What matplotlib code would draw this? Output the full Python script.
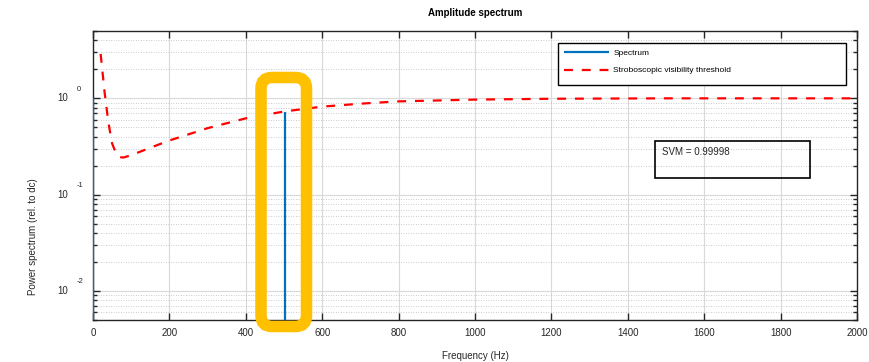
import matplotlib
matplotlib.use("Agg")
import matplotlib.pyplot as plt
from matplotlib.patches import FancyBboxPatch, Rectangle
from matplotlib.ticker import LogLocator, FixedLocator, NullFormatter
from matplotlib.transforms import blended_transform_factory, IdentityTransform

plt.rcParams['font.family'] = ['Liberation Sans', 'DejaVu Sans']

# Data
spec_freq = [0, 502]
spec_power = [1.0, 0.73]

thr_freq = [20, 30, 40, 50, 60, 70, 80, 100, 150, 200, 300, 400, 500, 600,
            700, 800, 1000, 1200, 1500, 2000]
thr_power = [2.89, 1.19, 0.57, 0.34, 0.27, 0.245, 0.243, 0.257, 0.307, 0.365,
             0.49, 0.62, 0.73, 0.82, 0.88, 0.93, 0.97, 0.99, 1.0, 1.0]

x_ticks = [0, 200, 400, 600, 800, 1000, 1200, 1400, 1600, 1800, 2000]
y_ticks = [0.01, 0.1, 1]
y_exps = ['-2', '-1', '0']
svm_text = "SVM = 0.99998"

W, H = 869, 362
fig = plt.figure(figsize=(W / 100, H / 100), dpi=100)
AX_L, AX_R, AX_T, AX_B = 93, 857, 31, 320
ax = fig.add_axes([AX_L / W, 1 - AX_B / H, (AX_R - AX_L) / W, (AX_B - AX_T) / H])

dark = '#262626'
ax.vlines(spec_freq, 1e-6, spec_power, color='#0072BD', linewidth=1.6,
          label='Spectrum', zorder=3)
ax.plot(thr_freq, thr_power, color='red', linestyle=(0, (4, 4)), linewidth=1.6,
        label='Stroboscopic visibility threshold', zorder=4)

ax.set_yscale('log')
ax.set_xlim(0, 2000)
ax.set_ylim(0.005, 5)
ax.set_xticks(x_ticks)
ax.set_xticklabels([str(t) for t in x_ticks])
ax.yaxis.set_major_locator(FixedLocator(y_ticks))
ax.yaxis.set_major_formatter(NullFormatter())
ax.yaxis.set_minor_locator(LogLocator(base=10, subs=range(2, 10), numticks=20))
ax.yaxis.set_minor_formatter(NullFormatter())

# MATLAB-style y tick labels: "10" with a detached exponent
tr = blended_transform_factory(ax.transAxes, ax.transData)
for v, e in zip(y_ticks, y_exps):
    ax.text((68 - AX_L) / (AX_R - AX_L), v, '10', transform=tr, ha='right', va='center',
            fontsize=7, color=dark, clip_on=False)
    ax.text((77 - AX_L) / (AX_R - AX_L), v * 10 ** (9 / 96), e, transform=tr, ha='left',
            va='center', fontsize=5.5, color=dark, clip_on=False)

ax.tick_params(which='both', direction='in', top=True, right=True,
               colors=dark, labelsize=7, labelcolor=dark)
ax.tick_params(which='major', length=5, width=1)
ax.tick_params(which='minor', length=3, width=1)
ax.tick_params(axis='x', pad=6)

ax.grid(which='major', axis='both', color='#d9d9d9', linewidth=0.8, linestyle='-')
ax.grid(which='minor', axis='y', color='#b8b8b8', linewidth=0.6, linestyle=(0, (1, 2)))
ax.set_axisbelow(True)

for s in ax.spines.values():
    s.set_color(dark)
    s.set_linewidth(1.0)

ax.set_title('Amplitude spectrum', fontsize=7, fontweight='bold', color='black', pad=11)
ax.set_xlabel('Frequency (Hz)', fontsize=7, color=dark, labelpad=9)
ax.text((33 - AX_L) / (AX_R - AX_L), (AX_B - 237) / (AX_B - AX_T),
        'Power spectrum (rel. to dc)', transform=ax.transAxes,
        rotation=90, ha='center', va='center', fontsize=7, color=dark)

# Legend with a manually drawn frame
lx0, lx1, ly0, ly1 = 558, 846, 43, 85
ax.add_patch(Rectangle((lx0, H - ly1), lx1 - lx0, ly1 - ly0,
                       transform=IdentityTransform(), facecolor='white',
                       edgecolor='black', linewidth=1.0, zorder=5, clip_on=False))
leg = ax.legend(loc='upper left',
                bbox_to_anchor=((lx0 - AX_L) / (AX_R - AX_L), (AX_B - ly1) / (AX_B - AX_T),
                                (lx1 - lx0) / (AX_R - AX_L), (ly1 - ly0) / (AX_B - AX_T)),
                mode='expand', fontsize=6, frameon=False, borderaxespad=0,
                handlelength=5.4, handletextpad=0.5, labelspacing=1.15,
                borderpad=0.75)
leg.set_zorder(6)

# SVM text box
fig.patches.append(Rectangle((655 / W, 1 - 178 / H), (810 - 655) / W, (178 - 141) / H,
                             transform=fig.transFigure, fill=False,
                             edgecolor='black', linewidth=1.2))
fig.text(662 / W, 1 - 152 / H, svm_text, fontsize=7, color=dark, va='center', ha='left')

# Highlight box (pixel coordinates, origin bottom-left)
bx0, bx1, by0, by1 = 261, 306.5, 77.5, 326.5
fig.patches.append(FancyBboxPatch((bx0, H - by1), bx1 - bx0, by1 - by0,
                                  boxstyle='round,pad=0,rounding_size=11',
                                  transform=IdentityTransform(), fill=False,
                                  edgecolor='#FFC000', linewidth=8.3, zorder=10))

fig.savefig('out.png', dpi=100)
